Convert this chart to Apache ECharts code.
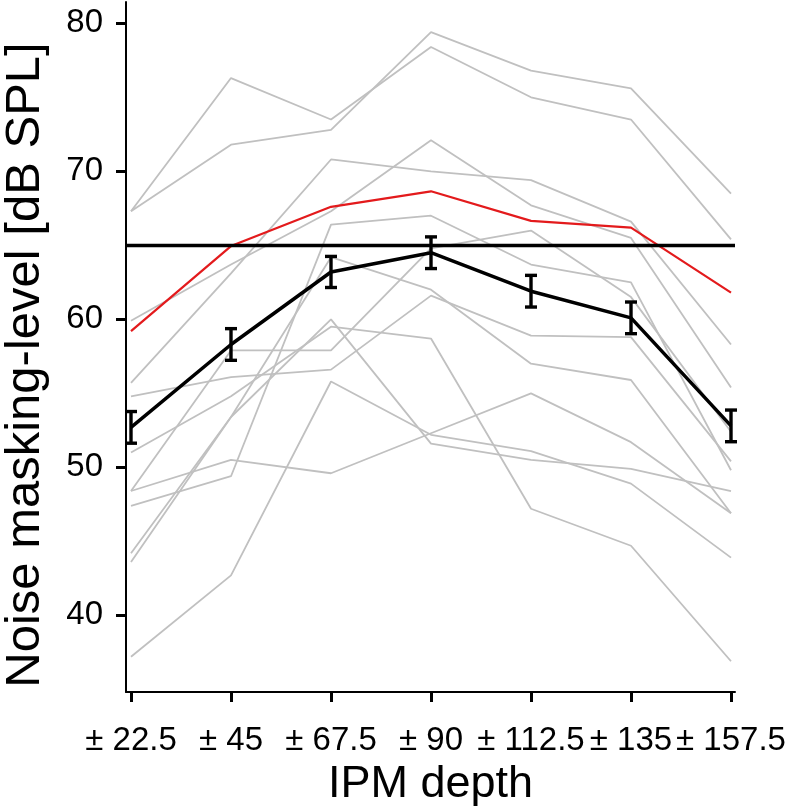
<!DOCTYPE html>
<html>
<head>
<meta charset="utf-8">
<script src="https://cdn.jsdelivr.net/npm/echarts@6/dist/echarts.min.js"></script>
<style>
html,body{margin:0;padding:0;background:#fff;}
#chart{width:789px;height:806px;}
</style>
</head>
<body>
<div id="chart"></div>
<script>
const categories = ['± 22.5', '± 45', '± 67.5', '± 90', '± 112.5', '± 135', '± 157.5'];
const yTicks = [40, 50, 60, 70, 80];
const meanValues = [52.7, 58.3, 63.2, 64.5, 61.9, 60.1, 52.8];
const meanErrors = [1.07, 1.07, 1.05, 1.07, 1.07, 1.07, 1.07];
const redValues = [59.2, 64.95, 67.6, 68.65, 66.65, 66.2, 61.8];
const referenceLevel = 65;
const g1 = [67.3, 76.3, 73.5, 78.4, 75.0, 73.5, 65.4];
const g2 = [67.3, 71.8, 72.8, 79.4, 76.8, 75.6, 68.5];
const g3 = [55.7, 63.1, 70.8, 70.0, 69.4, 66.6, 58.3];
const g4 = [59.9, 63.7, 67.3, 72.1, 67.7, 65.5, 55.4];
const g5 = [47.4, 49.4, 66.4, 67.0, 63.7, 62.5, 49.8];
const g6 = [44.2, 53.4, 64.2, 62.0, 57.0, 55.9, 46.9];
const g7 = [43.6, 53.4, 60.0, 51.6, 50.5, 49.9, 48.4];
const g8 = [51.0, 54.8, 59.5, 58.7, 47.2, 44.7, 36.9];
const g9 = [54.8, 56.1, 56.6, 61.6, 58.9, 58.8, 50.4];
const g10 = [48.4, 57.9, 57.9, 64.8, 66.0, 61.5, 52.4];
const g11 = [48.4, 50.5, 49.6, 52.3, 55.0, 51.7, 46.9];
const g12 = [37.2, 42.7, 55.8, 52.2, 51.1, 48.9, 43.9];
const grayLines = [g1, g2, g3, g4, g5, g6, g7, g8, g9, g10, g11, g12];

const xs = categories.map((_, i) => i);
const toPts = arr => arr.map((v, i) => [i, v]);

const chart = echarts.init(document.getElementById('chart'), null, {renderer: 'canvas'});
const font = '"Liberation Sans", Helvetica, Arial, sans-serif';

const series = [];
grayLines.forEach((arr, k) => {
  series.push({
    type: 'line', name: 'g' + k, data: toPts(arr), symbol: 'none', silent: true,
    lineStyle: {color: '#c0c0c0', width: 1.8}, z: 2, animation: false
  });
});
series.push({
  type: 'line', name: 'red', data: toPts(redValues), symbol: 'none',
  lineStyle: {color: '#e31a1c', width: 2.2}, z: 3, animation: false,
  markLine: {
    silent: true, symbol: 'none', label: {show: false},
    lineStyle: {color: '#000', width: 3.4, type: 'solid'},
    data: [{yAxis: referenceLevel}], animation: false
  }
});
series.push({
  type: 'line', name: 'mean', data: toPts(meanValues), symbol: 'none',
  lineStyle: {color: '#000', width: 3.5}, z: 4, animation: false
});
series.push({
  type: 'custom', name: 'err', z: 5, animation: false,
  data: meanValues.map((v, i) => [i, v - meanErrors[i], v + meanErrors[i]]),
  renderItem: function (params, api) {
    const lo = api.coord([api.value(0), api.value(1)]);
    const hi = api.coord([api.value(0), api.value(2)]);
    const hw = 6;
    const st = {stroke: '#000', lineWidth: 3.4};
    return {type: 'group', children: [
      {type: 'line', shape: {x1: lo[0], y1: lo[1], x2: hi[0], y2: hi[1]}, style: st},
      {type: 'line', shape: {x1: lo[0] - hw, y1: lo[1], x2: lo[0] + hw, y2: lo[1]}, style: st},
      {type: 'line', shape: {x1: hi[0] - hw, y1: hi[1], x2: hi[0] + hw, y2: hi[1]}, style: st}
    ]};
  }
});

chart.setOption({
  backgroundColor: '#fff',
  animation: false,
  grid: {left: 126, right: 54, top: 2, bottom: 114, containLabel: false, outerBoundsMode: 'none'},
  xAxis: {
    type: 'value', min: -0.05, max: 6.04,
    splitLine: {show: false},
    axisLine: {show: true, onZero: false, lineStyle: {color: '#000', width: 2}},
    axisTick: {show: true, customValues: xs, length: 10, lineStyle: {color: '#000', width: 3}},
    axisLabel: {show: true, customValues: xs, formatter: v => categories[Math.round(v)],
      color: '#000', fontSize: 33, fontFamily: font, margin: 32},
    name: 'IPM depth', nameLocation: 'middle', nameGap: 49,
    nameTextStyle: {color: '#000', fontSize: 45, fontFamily: font}
  },
  yAxis: {
    type: 'value', min: 34.82, max: 81.44,
    splitLine: {show: false},
    axisLine: {show: true, onZero: false, lineStyle: {color: '#000', width: 2}},
    axisTick: {show: true, customValues: yTicks, length: 10, lineStyle: {color: '#000', width: 3}},
    axisLabel: {show: true, customValues: yTicks, color: '#000', fontSize: 33, fontFamily: font, margin: 23},
    name: 'Noise masking-level [dB SPL]', nameLocation: 'middle', nameGap: 76,
    nameTextStyle: {color: '#000', fontSize: 49, fontFamily: font, padding: [0, 36, 0, 0]}
  },
  series: series
});
</script>
</body>
</html>
